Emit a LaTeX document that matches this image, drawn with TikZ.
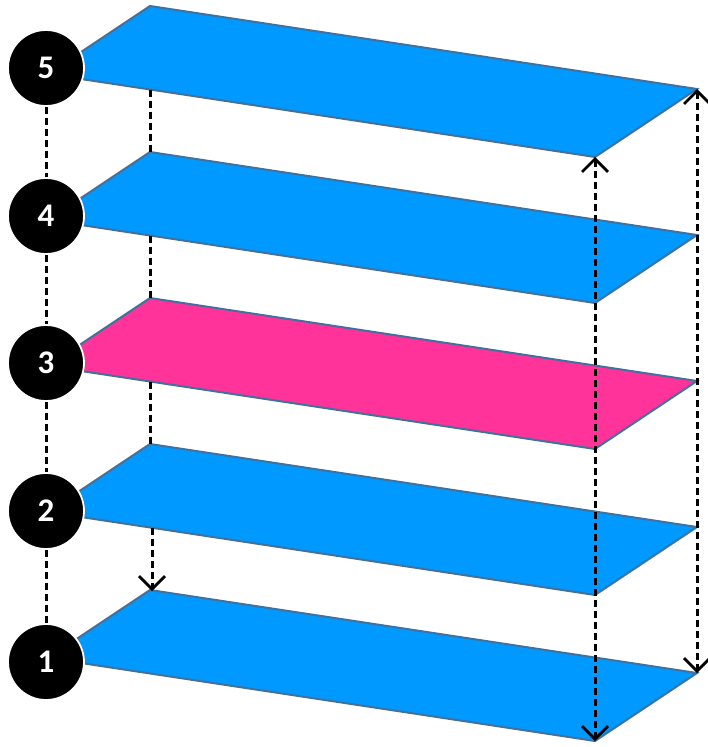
\documentclass[tikz,border=0pt]{standalone}
\usepackage{fontspec}
\setmainfont{Carlito}
\usetikzlibrary{arrows.meta}
\definecolor{layerblue}{RGB}{0,153,255}
\definecolor{layerpink}{RGB}{255,51,153}
\definecolor{edgeblue}{RGB}{65,113,156}
\tikzset{
  layer/.style={draw=edgeblue, line width=2pt, line join=miter},
  num/.style={circle, fill=black, draw=white, line width=1.8pt, minimum size=76pt, inner sep=0pt, text=white, font=\fontsize{33}{33}\selectfont\bfseries},
  dline/.style={black, line width=3pt, dash pattern=on 7pt off 4pt},
  tipv/.style={-{Straight Barb[length=13pt,width=26pt,line width=2.8pt]}},
  tipvv/.style={{Straight Barb[length=13pt,width=26pt,line width=2.8pt]}-{Straight Barb[length=13pt,width=26pt,line width=2.8pt]}}
}
\begin{document}
\begin{tikzpicture}[x=1pt,y=-1pt]
\useasboundingbox (0,0) rectangle (707,747);
% layer vertices
\foreach \k/\dy in {5/0,4/146,3/292,2/438,1/584}{
  \coordinate (A\k) at (150,6+\dy);
  \coordinate (B\k) at (697,89+\dy);
  \coordinate (C\k) at (595,157+\dy);
  \coordinate (D\k) at (48,74+\dy);
  \coordinate (E\k) at (150,89.6+\dy);
}
\coordinate (S2) at (152,527.8);
\coordinate (T1) at (152,591);
\foreach \k in {5,4,2,1}{
  \fill[layerblue] (A\k) -- (B\k) -- (C\k) -- (D\k) -- cycle;
  \draw[layer] (A\k) -- (B\k) -- (C\k) -- (D\k) -- cycle;
}
\fill[layerpink] (A3) -- (B3) -- (C3) -- (D3) -- cycle;
\draw[layer] (A3) -- (B3) -- (C3) -- (D3) -- cycle;
% circles
\node[num] (c5) at (46,68) {5};
\node[num] (c4) at (46,216) {4};
\node[num] (c3) at (46,363) {3};
\node[num] (c2) at (46,511) {2};
\node[num] (c1) at (46,662) {1};
% left dashed connectors
\draw[dline] (c5) -- (c4);
\draw[dline] (c4) -- (c3);
\draw[dline] (c3) -- (c2);
\draw[dline] (c2) -- (c1);
% inner dashed connectors
\draw[dline] (E5) -- (A4);
\draw[dline] (E4) -- (A3);
\draw[dline] (E3) -- (A2);
\draw[dline, tipv] (S2) -- (T1);
% right double arrows
\draw[dline, tipvv] (B5) -- (B1);
\draw[dline, tipvv] (C5) -- (C1);
\end{tikzpicture}
\end{document}
